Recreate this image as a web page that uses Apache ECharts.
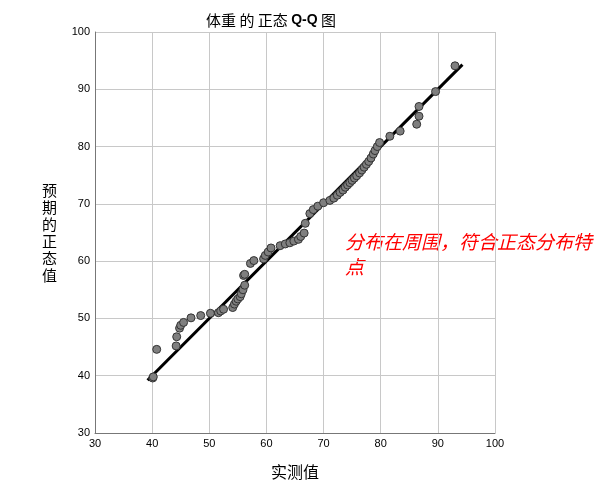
<!DOCTYPE html>
<html>
<head>
<meta charset="utf-8">
<script src="https://cdn.jsdelivr.net/npm/echarts@6/dist/echarts.min.js"></script>
<style>
  html, body { margin: 0; padding: 0; background: #fff; }
  #qq { width: 610px; height: 491px; }
</style>
</head>
<body>
<div id="qq"></div>
<script>
// 实测值 / 预期的正态值
var observed = [
  40.1, 40.2, 40.8, 44.2, 44.3, 44.8, 45.0, 45.5, 46.8, 48.5,
  50.2, 51.6, 52.0, 52.5, 54.1, 54.4, 54.7, 55.0, 55.4, 55.6,
  55.9, 56.2, 56.0, 56.2, 57.2, 57.8, 59.5, 59.8, 60.3, 60.8,
  62.4, 63.3, 64.1, 64.8, 65.6, 66.0, 66.6, 66.8, 67.6, 68.2,
  69.0, 70.0, 71.1, 71.8, 72.4, 72.9, 73.4, 73.8, 74.2, 74.6,
  75.0, 75.4, 75.8, 76.3, 76.7, 77.1, 77.5, 77.9, 78.3, 78.7,
  79.0, 79.4, 79.8, 81.6, 83.4, 86.3, 86.7, 86.7, 89.6, 93.0
];
var expected = [
  39.6, 39.8, 44.6, 45.2, 46.8, 48.3, 48.8, 49.3, 50.1, 50.5,
  50.9, 51.0, 51.3, 51.6, 51.9, 52.5, 53.0, 53.4, 53.8, 54.3,
  55.0, 55.8, 57.5, 57.7, 59.6, 60.1, 60.4, 61.0, 61.6, 62.3,
  62.7, 63.0, 63.2, 63.5, 63.8, 64.3, 64.9, 66.6, 68.3, 69.0,
  69.6, 70.2, 70.6, 71.0, 71.5, 72.0, 72.4, 72.9, 73.3, 73.7,
  74.1, 74.5, 74.9, 75.4, 75.9, 76.4, 76.9, 77.4, 78.0, 78.7,
  79.3, 80.0, 80.7, 81.8, 82.7, 83.9, 85.3, 87.0, 89.6, 94.1
];
var refLine = [[39.2, 39.2], [94.3, 94.3]];

var points = observed.map(function (v, i) { return [v, expected[i]]; });

var chart = echarts.init(document.getElementById('qq'));
var tickFont = { color: '#000', fontSize: 11, fontFamily: 'Liberation Sans' };
var option = {
    animation: false,
    title: {
        text: '{c|体重 的 正态 }{q|Q-Q}{c| 图}',
        left: 266,
        top: 8,
        textAlign: 'center',
        textStyle: {
            rich: {
                c: { fontSize: 15, fontWeight: 'normal', color: '#000', fontFamily: 'Noto Sans CJK SC' },
                q: { fontSize: 14, fontWeight: 'bold', color: '#000', fontFamily: 'Liberation Sans' }
            }
        }
    },
    grid: { left: 95, right: 115, top: 32, bottom: 58 },
    xAxis: {
        type: 'value', min: 30, max: 100, interval: 10,
        name: '实测值', nameLocation: 'middle', nameGap: 31,
        nameTextStyle: { fontSize: 16, color: '#000', fontFamily: 'Noto Sans CJK SC' },
        axisLine: { show: true, lineStyle: { color: '#777', width: 1 } },
        axisTick: { show: false },
        axisLabel: Object.assign({ margin: 5 }, tickFont),
        splitLine: { show: true, lineStyle: { color: '#c8c8c8' } }
    },
    yAxis: {
        type: 'value', min: 30, max: 100, interval: 10,
        name: '预\n期\n的\n正\n态\n值', nameLocation: 'middle', nameRotate: 0, nameGap: 38,
        nameTextStyle: { fontSize: 15, color: '#000', fontFamily: 'Noto Sans CJK SC', lineHeight: 17 },
        axisLine: { show: true, lineStyle: { color: '#777', width: 1 } },
        axisTick: { show: false },
        axisLabel: Object.assign({ margin: 5 }, tickFont),
        splitLine: { show: true, lineStyle: { color: '#c8c8c8' } }
    },
    series: [
        {
            type: 'line',
            data: refLine,
            symbol: 'none',
            lineStyle: { color: '#000', width: 3 },
            z: 2
        },
        {
            type: 'scatter',
            data: points,
            symbolSize: 8,
            itemStyle: { color: '#7f7f7f', borderColor: '#333', borderWidth: 1, opacity: 1 },
            z: 3
        }
    ],
    graphic: [{
        type: 'text',
        left: 345,
        top: 229,
        style: {
            text: '分布在周围，符合正态分布特\n点',
            fill: '#ff0000',
            fontSize: 19,
            fontStyle: 'italic',
            fontFamily: 'Noto Sans CJK SC',
            lineHeight: 25
        }
    }]
};
chart.setOption(option);
</script>
</body>
</html>
